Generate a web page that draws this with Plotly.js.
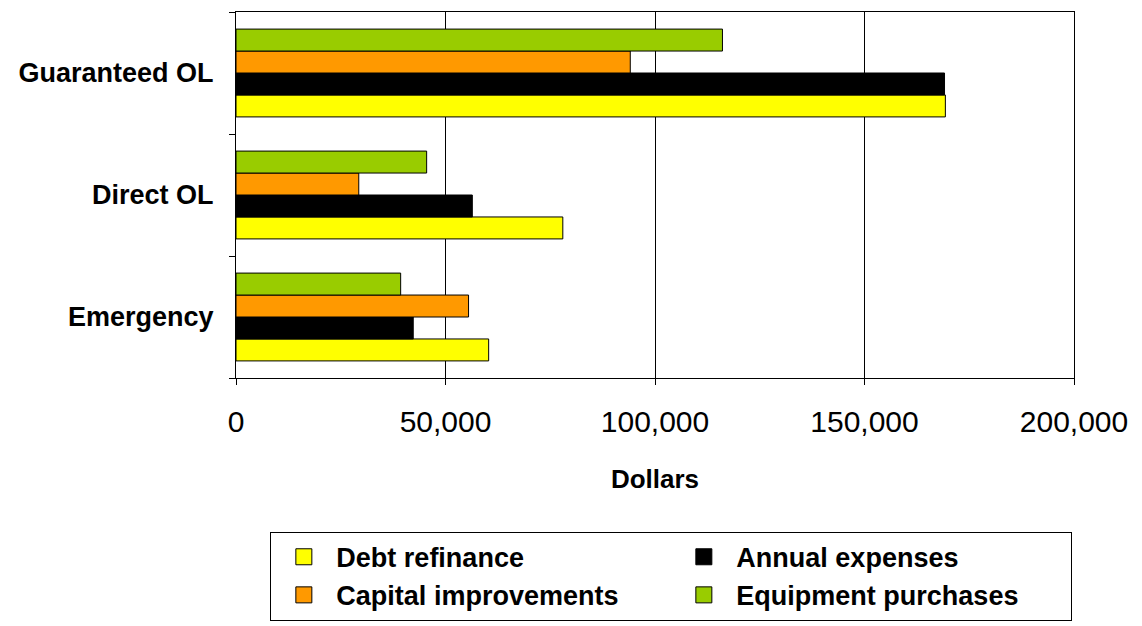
<!DOCTYPE html>
<html>
<head>
<meta charset="utf-8">
<script src="https://cdn.plot.ly/plotly-3.0.1.min.js"></script>
<style>html,body{margin:0;padding:0;background:#fff;}#chart{width:1142px;height:626px;}</style>
</head>
<body>
<div id="chart"></div>
<script>
const categories = ["Emergency", "Direct OL", "Guaranteed OL"];
const debtRefinance = [60300, 78000, 169300];
const annualExpenses = [42300, 56400, 169100];
const capitalImprovements = [55500, 29300, 94100];
const equipmentPurchases = [39300, 45500, 116100];
const xTickVals = [0, 50000, 100000, 150000, 200000];

const seriesNames = ["Debt refinance", "Annual expenses", "Capital improvements", "Equipment purchases"];
const seriesValues = [debtRefinance, annualExpenses, capitalImprovements, equipmentPurchases];
const seriesColors = ["#FFFF00", "#000000", "#FF9900", "#99CC00"];

const FONT = "Liberation Sans, Arial, sans-serif";

const barTraces = seriesNames.map((name, i) => ({
  type: "bar",
  orientation: "h",
  name: name,
  y: categories,
  x: seriesValues[i],
  marker: {color: seriesColors[i], line: {color: "#000000", width: 1}},
  showlegend: false,
  hoverinfo: "x+name"
}));

// legend-only entries (larger square swatches, as in the reference)
const legendTraces = seriesNames.map((name, i) => ({
  type: "scatter",
  mode: "markers",
  name: name,
  x: [null],
  y: [null],
  marker: {symbol: "square", size: 16, color: seriesColors[i], line: {color: "#000000", width: 1}},
  showlegend: true,
  hoverinfo: "skip"
}));

const layout = {
  width: 1142,
  height: 626,
  margin: {l: 236, r: 68, t: 12, b: 248, autoexpand: false},
  paper_bgcolor: "#ffffff",
  plot_bgcolor: "#ffffff",
  font: {family: FONT, color: "#000000"},
  barmode: "group",
  bargap: 0.28,
  bargroupgap: 0,
  showlegend: true,
  xaxis: {
    range: [0, 200000],
    tickvals: xTickVals,
    tickformat: ",d",
    showgrid: true,
    gridcolor: "#000000",
    gridwidth: 1,
    zeroline: false,
    showline: true,
    linecolor: "#000000",
    linewidth: 1,
    mirror: true,
    ticks: "outside",
    ticklen: 6,
    tickcolor: "#000000",
    tickfont: {size: 30, family: FONT},
    ticklabelstandoff: 11,
    title: {text: "<b>Dollars</b>", font: {size: 26, family: FONT}, standoff: 32},
    fixedrange: true
  },
  yaxis: {
    type: "category",
    categoryorder: "array",
    categoryarray: categories,
    showgrid: false,
    zeroline: false,
    showline: true,
    linecolor: "#000000",
    linewidth: 1,
    mirror: true,
    ticks: "outside",
    tickson: "boundaries",
    ticklen: 6,
    tickcolor: "#000000",
    tickfont: {size: 27, family: FONT, weight: "bold"},
    ticklabelstandoff: 16,
    fixedrange: true
  },
  legend: {
    orientation: "h",
    x: 0.041,
    xanchor: "left",
    y: -0.42,
    yanchor: "top",
    bordercolor: "#000000",
    borderwidth: 1,
    bgcolor: "#ffffff",
    traceorder: "normal",
    itemwidth: 55,
    entrywidth: 330,
    entrywidthmode: "pixels",
    font: {size: 27, family: FONT, weight: "bold"}
  }
};

Plotly.newPlot("chart", barTraces.concat(legendTraces), layout, {displayModeBar: false, staticPlot: true});
</script>
</body>
</html>
